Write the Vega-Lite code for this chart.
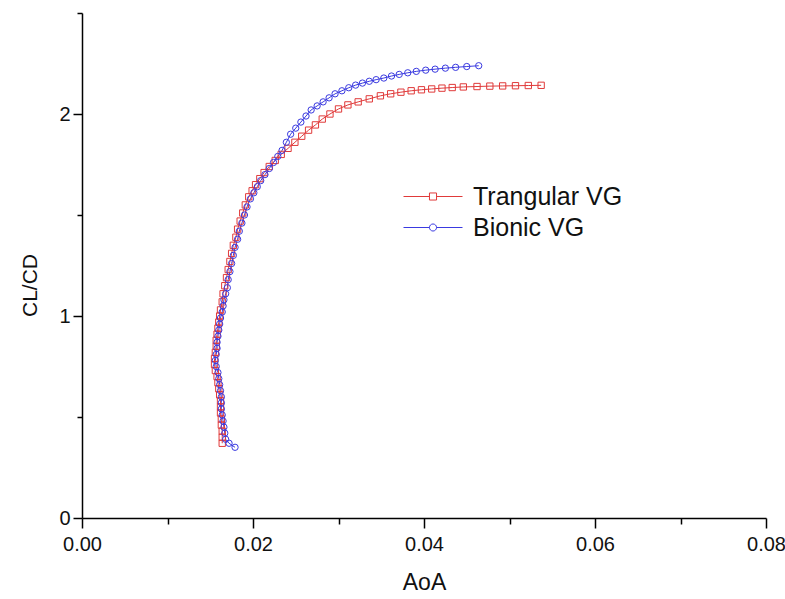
{
  "$schema": "https://vega.github.io/schema/vega-lite/v6.json",
  "width": 684,
  "height": 505,
  "autosize": "none",
  "padding": {"left": 82, "top": 13, "right": 19, "bottom": 81},
  "background": "white",
  "config": {"view": {"stroke": null}, "font": "Liberation Sans"},
  "datasets": {
    "pts": [
      {"series": "Trangular VG", "i": 1, "aoa": 0.0164, "r": 0.37},
      {"series": "Trangular VG", "i": 2, "aoa": 0.0164, "r": 0.40},
      {"series": "Trangular VG", "i": 3, "aoa": 0.0164, "r": 0.43},
      {"series": "Trangular VG", "i": 4, "aoa": 0.0163, "r": 0.46},
      {"series": "Trangular VG", "i": 5, "aoa": 0.0163, "r": 0.49},
      {"series": "Trangular VG", "i": 6, "aoa": 0.0162, "r": 0.52},
      {"series": "Trangular VG", "i": 7, "aoa": 0.0162, "r": 0.55},
      {"series": "Trangular VG", "i": 8, "aoa": 0.0162, "r": 0.58},
      {"series": "Trangular VG", "i": 9, "aoa": 0.0161, "r": 0.61},
      {"series": "Trangular VG", "i": 10, "aoa": 0.0160, "r": 0.64},
      {"series": "Trangular VG", "i": 11, "aoa": 0.0159, "r": 0.67},
      {"series": "Trangular VG", "i": 12, "aoa": 0.0158, "r": 0.70},
      {"series": "Trangular VG", "i": 13, "aoa": 0.0156, "r": 0.73},
      {"series": "Trangular VG", "i": 14, "aoa": 0.0155, "r": 0.76},
      {"series": "Trangular VG", "i": 15, "aoa": 0.0155, "r": 0.79},
      {"series": "Trangular VG", "i": 16, "aoa": 0.0156, "r": 0.82},
      {"series": "Trangular VG", "i": 17, "aoa": 0.0157, "r": 0.85},
      {"series": "Trangular VG", "i": 18, "aoa": 0.0157, "r": 0.88},
      {"series": "Trangular VG", "i": 19, "aoa": 0.0158, "r": 0.91},
      {"series": "Trangular VG", "i": 20, "aoa": 0.0159, "r": 0.94},
      {"series": "Trangular VG", "i": 21, "aoa": 0.0160, "r": 0.97},
      {"series": "Trangular VG", "i": 22, "aoa": 0.0161, "r": 1.00},
      {"series": "Trangular VG", "i": 23, "aoa": 0.0162, "r": 1.03},
      {"series": "Trangular VG", "i": 24, "aoa": 0.0164, "r": 1.07},
      {"series": "Trangular VG", "i": 25, "aoa": 0.0165, "r": 1.11},
      {"series": "Trangular VG", "i": 26, "aoa": 0.0167, "r": 1.15},
      {"series": "Trangular VG", "i": 27, "aoa": 0.0169, "r": 1.19},
      {"series": "Trangular VG", "i": 28, "aoa": 0.0171, "r": 1.23},
      {"series": "Trangular VG", "i": 29, "aoa": 0.0173, "r": 1.27},
      {"series": "Trangular VG", "i": 30, "aoa": 0.0175, "r": 1.31},
      {"series": "Trangular VG", "i": 31, "aoa": 0.0177, "r": 1.35},
      {"series": "Trangular VG", "i": 32, "aoa": 0.0180, "r": 1.39},
      {"series": "Trangular VG", "i": 33, "aoa": 0.0182, "r": 1.43},
      {"series": "Trangular VG", "i": 34, "aoa": 0.0185, "r": 1.47},
      {"series": "Trangular VG", "i": 35, "aoa": 0.0188, "r": 1.51},
      {"series": "Trangular VG", "i": 36, "aoa": 0.0191, "r": 1.55},
      {"series": "Trangular VG", "i": 37, "aoa": 0.0195, "r": 1.59},
      {"series": "Trangular VG", "i": 38, "aoa": 0.0199, "r": 1.62},
      {"series": "Trangular VG", "i": 39, "aoa": 0.0203, "r": 1.65},
      {"series": "Trangular VG", "i": 40, "aoa": 0.0208, "r": 1.68},
      {"series": "Trangular VG", "i": 41, "aoa": 0.0213, "r": 1.71},
      {"series": "Trangular VG", "i": 42, "aoa": 0.0219, "r": 1.74},
      {"series": "Trangular VG", "i": 43, "aoa": 0.0226, "r": 1.77},
      {"series": "Trangular VG", "i": 44, "aoa": 0.0233, "r": 1.80},
      {"series": "Trangular VG", "i": 45, "aoa": 0.0241, "r": 1.83},
      {"series": "Trangular VG", "i": 46, "aoa": 0.0249, "r": 1.86},
      {"series": "Trangular VG", "i": 47, "aoa": 0.0257, "r": 1.89},
      {"series": "Trangular VG", "i": 48, "aoa": 0.0265, "r": 1.92},
      {"series": "Trangular VG", "i": 49, "aoa": 0.0273, "r": 1.946},
      {"series": "Trangular VG", "i": 50, "aoa": 0.0281, "r": 1.975},
      {"series": "Trangular VG", "i": 51, "aoa": 0.0290, "r": 2.00},
      {"series": "Trangular VG", "i": 52, "aoa": 0.0300, "r": 2.025},
      {"series": "Trangular VG", "i": 53, "aoa": 0.0311, "r": 2.045},
      {"series": "Trangular VG", "i": 54, "aoa": 0.0323, "r": 2.06},
      {"series": "Trangular VG", "i": 55, "aoa": 0.0336, "r": 2.075},
      {"series": "Trangular VG", "i": 56, "aoa": 0.0349, "r": 2.09},
      {"series": "Trangular VG", "i": 57, "aoa": 0.0361, "r": 2.10},
      {"series": "Trangular VG", "i": 58, "aoa": 0.0373, "r": 2.108},
      {"series": "Trangular VG", "i": 59, "aoa": 0.0385, "r": 2.115},
      {"series": "Trangular VG", "i": 60, "aoa": 0.0397, "r": 2.12},
      {"series": "Trangular VG", "i": 61, "aoa": 0.0409, "r": 2.124},
      {"series": "Trangular VG", "i": 62, "aoa": 0.0421, "r": 2.128},
      {"series": "Trangular VG", "i": 63, "aoa": 0.0433, "r": 2.131},
      {"series": "Trangular VG", "i": 64, "aoa": 0.0446, "r": 2.134},
      {"series": "Trangular VG", "i": 65, "aoa": 0.0462, "r": 2.136},
      {"series": "Trangular VG", "i": 66, "aoa": 0.0477, "r": 2.138},
      {"series": "Trangular VG", "i": 67, "aoa": 0.0492, "r": 2.139},
      {"series": "Trangular VG", "i": 68, "aoa": 0.0507, "r": 2.140},
      {"series": "Trangular VG", "i": 69, "aoa": 0.0522, "r": 2.141},
      {"series": "Trangular VG", "i": 70, "aoa": 0.0537, "r": 2.142},
      {"series": "Bionic VG", "i": 101, "aoa": 0.0179, "r": 0.35},
      {"series": "Bionic VG", "i": 102, "aoa": 0.0172, "r": 0.37},
      {"series": "Bionic VG", "i": 103, "aoa": 0.0168, "r": 0.39},
      {"series": "Bionic VG", "i": 104, "aoa": 0.0167, "r": 0.42},
      {"series": "Bionic VG", "i": 105, "aoa": 0.0166, "r": 0.45},
      {"series": "Bionic VG", "i": 106, "aoa": 0.0165, "r": 0.48},
      {"series": "Bionic VG", "i": 107, "aoa": 0.0164, "r": 0.51},
      {"series": "Bionic VG", "i": 108, "aoa": 0.0163, "r": 0.54},
      {"series": "Bionic VG", "i": 109, "aoa": 0.0163, "r": 0.57},
      {"series": "Bionic VG", "i": 110, "aoa": 0.0163, "r": 0.60},
      {"series": "Bionic VG", "i": 111, "aoa": 0.0162, "r": 0.63},
      {"series": "Bionic VG", "i": 112, "aoa": 0.0161, "r": 0.66},
      {"series": "Bionic VG", "i": 113, "aoa": 0.0160, "r": 0.69},
      {"series": "Bionic VG", "i": 114, "aoa": 0.0159, "r": 0.72},
      {"series": "Bionic VG", "i": 115, "aoa": 0.0157, "r": 0.75},
      {"series": "Bionic VG", "i": 116, "aoa": 0.0156, "r": 0.78},
      {"series": "Bionic VG", "i": 117, "aoa": 0.0157, "r": 0.81},
      {"series": "Bionic VG", "i": 118, "aoa": 0.0158, "r": 0.84},
      {"series": "Bionic VG", "i": 119, "aoa": 0.0158, "r": 0.87},
      {"series": "Bionic VG", "i": 120, "aoa": 0.0159, "r": 0.90},
      {"series": "Bionic VG", "i": 121, "aoa": 0.0160, "r": 0.93},
      {"series": "Bionic VG", "i": 122, "aoa": 0.0161, "r": 0.96},
      {"series": "Bionic VG", "i": 123, "aoa": 0.0162, "r": 0.99},
      {"series": "Bionic VG", "i": 124, "aoa": 0.0164, "r": 1.02},
      {"series": "Bionic VG", "i": 125, "aoa": 0.0165, "r": 1.05},
      {"series": "Bionic VG", "i": 126, "aoa": 0.0166, "r": 1.08},
      {"series": "Bionic VG", "i": 127, "aoa": 0.0168, "r": 1.11},
      {"series": "Bionic VG", "i": 128, "aoa": 0.0170, "r": 1.14},
      {"series": "Bionic VG", "i": 129, "aoa": 0.0171, "r": 1.18},
      {"series": "Bionic VG", "i": 130, "aoa": 0.0173, "r": 1.22},
      {"series": "Bionic VG", "i": 131, "aoa": 0.0175, "r": 1.26},
      {"series": "Bionic VG", "i": 132, "aoa": 0.0177, "r": 1.30},
      {"series": "Bionic VG", "i": 133, "aoa": 0.0179, "r": 1.34},
      {"series": "Bionic VG", "i": 134, "aoa": 0.0182, "r": 1.38},
      {"series": "Bionic VG", "i": 135, "aoa": 0.0184, "r": 1.42},
      {"series": "Bionic VG", "i": 136, "aoa": 0.0187, "r": 1.46},
      {"series": "Bionic VG", "i": 137, "aoa": 0.0190, "r": 1.50},
      {"series": "Bionic VG", "i": 138, "aoa": 0.0193, "r": 1.54},
      {"series": "Bionic VG", "i": 139, "aoa": 0.0197, "r": 1.58},
      {"series": "Bionic VG", "i": 140, "aoa": 0.0201, "r": 1.61},
      {"series": "Bionic VG", "i": 141, "aoa": 0.0205, "r": 1.64},
      {"series": "Bionic VG", "i": 142, "aoa": 0.0209, "r": 1.67},
      {"series": "Bionic VG", "i": 143, "aoa": 0.0214, "r": 1.70},
      {"series": "Bionic VG", "i": 144, "aoa": 0.0219, "r": 1.73},
      {"series": "Bionic VG", "i": 145, "aoa": 0.0224, "r": 1.76},
      {"series": "Bionic VG", "i": 146, "aoa": 0.0229, "r": 1.79},
      {"series": "Bionic VG", "i": 147, "aoa": 0.0234, "r": 1.82},
      {"series": "Bionic VG", "i": 148, "aoa": 0.0239, "r": 1.86},
      {"series": "Bionic VG", "i": 149, "aoa": 0.0244, "r": 1.90},
      {"series": "Bionic VG", "i": 150, "aoa": 0.0250, "r": 1.93},
      {"series": "Bionic VG", "i": 151, "aoa": 0.0256, "r": 1.96},
      {"series": "Bionic VG", "i": 152, "aoa": 0.0262, "r": 1.99},
      {"series": "Bionic VG", "i": 153, "aoa": 0.0268, "r": 2.02},
      {"series": "Bionic VG", "i": 154, "aoa": 0.0275, "r": 2.04},
      {"series": "Bionic VG", "i": 155, "aoa": 0.0282, "r": 2.06},
      {"series": "Bionic VG", "i": 156, "aoa": 0.0289, "r": 2.08},
      {"series": "Bionic VG", "i": 157, "aoa": 0.0296, "r": 2.10},
      {"series": "Bionic VG", "i": 158, "aoa": 0.0304, "r": 2.115},
      {"series": "Bionic VG", "i": 159, "aoa": 0.0312, "r": 2.13},
      {"series": "Bionic VG", "i": 160, "aoa": 0.0320, "r": 2.143},
      {"series": "Bionic VG", "i": 161, "aoa": 0.0328, "r": 2.153},
      {"series": "Bionic VG", "i": 162, "aoa": 0.0336, "r": 2.162},
      {"series": "Bionic VG", "i": 163, "aoa": 0.0344, "r": 2.170},
      {"series": "Bionic VG", "i": 164, "aoa": 0.0353, "r": 2.178},
      {"series": "Bionic VG", "i": 165, "aoa": 0.0362, "r": 2.188},
      {"series": "Bionic VG", "i": 166, "aoa": 0.0371, "r": 2.196},
      {"series": "Bionic VG", "i": 167, "aoa": 0.0381, "r": 2.204},
      {"series": "Bionic VG", "i": 168, "aoa": 0.0391, "r": 2.211},
      {"series": "Bionic VG", "i": 169, "aoa": 0.0402, "r": 2.217},
      {"series": "Bionic VG", "i": 170, "aoa": 0.0413, "r": 2.222},
      {"series": "Bionic VG", "i": 171, "aoa": 0.0425, "r": 2.227},
      {"series": "Bionic VG", "i": 172, "aoa": 0.0437, "r": 2.231},
      {"series": "Bionic VG", "i": 173, "aoa": 0.0450, "r": 2.235},
      {"series": "Bionic VG", "i": 174, "aoa": 0.0464, "r": 2.239}
    ]
  },
  "data": {"name": "pts"},
  "encoding": {
    "x": {
      "field": "aoa", "type": "quantitative",
      "scale": {"domain": [0, 0.08], "nice": false, "zero": false},
      "axis": {
        "values": [0, 0.01, 0.02, 0.03, 0.04, 0.05, 0.06, 0.07, 0.08],
        "labelExpr": "round(datum.value*100) % 2 === 0 ? format(datum.value, '.2f') : ''",
        "tickSize": {"condition": {"test": "round(datum.value*100) % 2 === 1", "value": 6}, "value": 10},
        "grid": false, "labelFlush": false, "labelOverlap": false,
        "domainColor": "black", "domainWidth": 1.5, "tickColor": "black", "tickWidth": 1.5,
        "labelFontSize": 20, "labelColor": "#111", "labelPadding": 6,
        "title": "AoA", "titleFontSize": 23, "titleFontWeight": "normal", "titleColor": "#111", "titlePadding": 17
      }
    },
    "y": {
      "field": "r", "type": "quantitative",
      "scale": {"domain": [0, 2.5], "nice": false},
      "axis": {
        "values": [0, 0.5, 1, 1.5, 2, 2.5],
        "labelExpr": "datum.value % 1 === 0 ? format(datum.value, 'd') : ''",
        "tickSize": {"condition": {"test": "datum.value % 1 !== 0", "value": 5}, "value": 9},
        "grid": false, "labelOverlap": false, "labelFlush": false,
        "domainColor": "black", "domainWidth": 1.5, "tickColor": "black", "tickWidth": 1.5,
        "labelFontSize": 20, "labelColor": "#111", "labelPadding": 3,
        "title": "CL/CD", "titleFontSize": 21, "titleFontWeight": "normal", "titleColor": "#111",
        "titleX": -42, "titleY": 272
      }
    },
    "color": {
      "field": "series", "type": "nominal",
      "scale": {"domain": ["Trangular VG", "Bionic VG"], "range": ["#e03a3a", "#3a3ae0"]},
      "legend": {
        "title": null, "orient": "none", "legendX": 321, "legendY": 168,
        "padding": 0, "labelFontSize": 25, "labelColor": "#111", "labelOffset": 10,
        "symbolType": "M-1,0H-0.12M0.12,0H1M-0.12,-0.12H0.12V0.12H-0.12Z",
        "symbolSize": 3481, "symbolStrokeWidth": 1, "rowPadding": 0, "clipHeight": 31,
        "encode": {
          "symbols": {
            "update": {
              "shape": {"signal": "datum.value === 'Trangular VG' ? 'M-1,0H-0.12M0.12,0H1M-0.12,-0.12H0.12V0.12H-0.12Z' : 'M-1,0H-0.12M0.12,0H1M-0.12,0A0.12,0.12 0 1,0 0.12,0A0.12,0.12 0 1,0 -0.12,0Z'"},
              "fill": {"value": "transparent"},
              "strokeWidth": {"value": 1}
            }
          }
        }
      }
    },
    "order": {"field": "i", "type": "quantitative"}
  },
  "layer": [
    {"mark": {"type": "line", "strokeWidth": 1}},
    {
      "transform": [{"filter": "datum.series === 'Trangular VG'"}],
      "mark": {"type": "point", "shape": "square", "filled": false, "strokeWidth": 1, "size": 40, "opacity": 1}
    },
    {
      "transform": [{"filter": "datum.series === 'Bionic VG'"}],
      "mark": {"type": "point", "shape": "circle", "filled": false, "strokeWidth": 1, "size": 40, "opacity": 1}
    }
  ]
}
